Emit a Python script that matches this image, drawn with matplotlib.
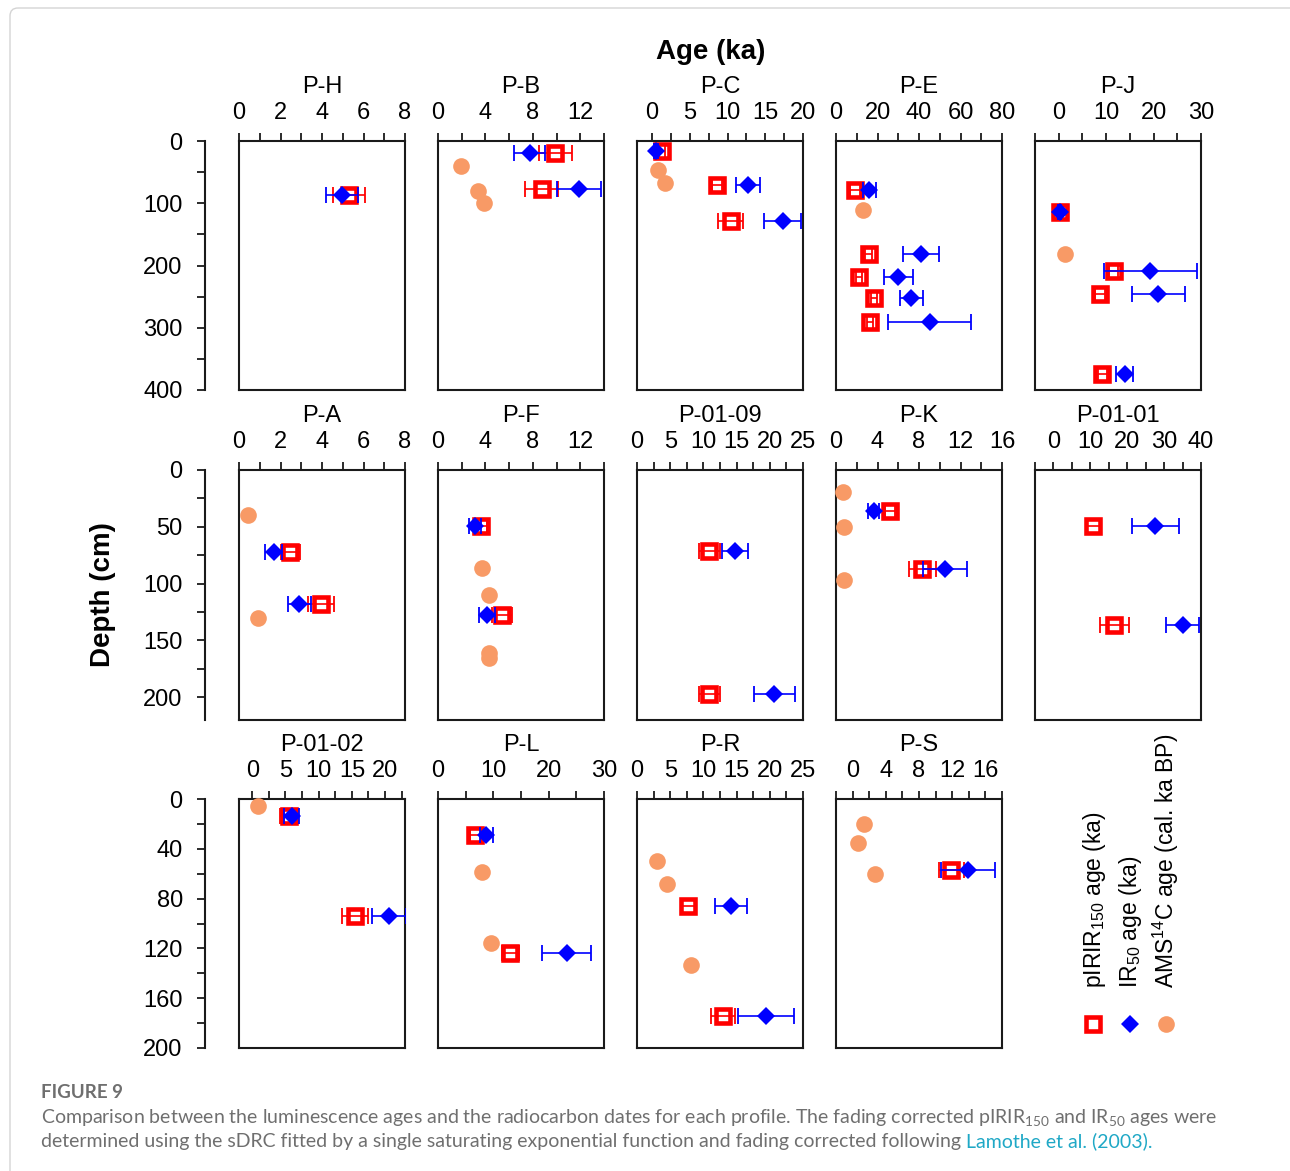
import matplotlib
matplotlib.use("Agg")
import matplotlib.pyplot as plt
from matplotlib.ticker import MultipleLocator, FormatStrFormatter
from matplotlib.patches import FancyBboxPatch

plt.rcParams['font.family'] = ['Liberation Sans', 'DejaVu Sans']
plt.rcParams['mathtext.default'] = 'regular'

# panel layout (rows of profiles)
rows = [["P-H", "P-B", "P-C", "P-E", "P-J"],
        ["P-A", "P-F", "P-01-09", "P-K", "P-01-01"],
        ["P-01-02", "P-L", "P-R", "P-S"]]

# age axis per profile: limits, labelled step, tick step
age_lim = {"P-H": (0, 8), "P-B": (0, 14), "P-C": (-2, 20), "P-E": (0, 80), "P-J": (-5, 30),
           "P-A": (0, 8), "P-F": (0, 14), "P-01-09": (0, 25), "P-K": (0, 16), "P-01-01": (-5, 40),
           "P-01-02": (-2, 23), "P-L": (0, 30), "P-R": (0, 25), "P-S": (-2, 18)}
age_label_step = {"P-H": 2, "P-B": 4, "P-C": 5, "P-E": 20, "P-J": 10,
                  "P-A": 2, "P-F": 4, "P-01-09": 5, "P-K": 4, "P-01-01": 10,
                  "P-01-02": 5, "P-L": 10, "P-R": 5, "P-S": 4}
age_tick_step = {"P-H": 1, "P-B": 2, "P-C": 2.5, "P-E": 10, "P-J": 5,
                 "P-A": 1, "P-F": 2, "P-01-09": 2.5, "P-K": 2, "P-01-01": 5,
                 "P-01-02": 2.5, "P-L": 5, "P-R": 2.5, "P-S": 2}

# depth axis per row
depth_max = [400, 220, 200]
depth_label_step = [100, 50, 40]
depth_tick_step = [50, 25, 20]

# pIRIR150 ages: depth (cm), age (ka), error (ka)
pirir_depth = {"P-H": [87], "P-B": [20, 77], "P-C": [16, 71, 129],
               "P-E": [78, 181, 219, 252, 291], "P-J": [114, 209, 245, 374],
               "P-A": [72, 118], "P-F": [49, 128], "P-01-09": [71, 197], "P-K": [36, 87],
               "P-01-01": [49, 136], "P-01-02": [14, 94], "P-L": [29, 123.5],
               "P-R": [86, 174], "P-S": [57]}
pirir_age = {"P-H": [5.3], "P-B": [9.9, 8.75], "P-C": [1.3, 8.6, 10.4],
             "P-E": [9.3, 15.7, 11.1, 18.2, 16.4], "P-J": [0.2, 11.6, 8.7, 9.2],
             "P-A": [2.48, 3.95], "P-F": [3.65, 5.4], "P-01-09": [10.9, 10.9], "P-K": [5.2, 8.3],
             "P-01-01": [10.8, 16.5], "P-01-02": [5.5, 15.5], "P-L": [6.7, 13.1],
             "P-R": [7.7, 13.0], "P-S": [11.9]}
pirir_err = {"P-H": [0.75], "P-B": [1.37, 1.4], "P-C": [0.4, 0.6, 1.65],
             "P-E": [2.5, 1.5, 1.5, 1.5, 1.5], "P-J": [0.5, 1.0, 1.0, 1.0],
             "P-A": [0.45, 0.63], "P-F": [0.5, 0.87], "P-01-09": [1.6, 1.6], "P-K": [0.5, 1.3],
             "P-01-01": [1.8, 4.0], "P-01-02": [1.3, 1.95], "P-L": [1.0, 1.5],
             "P-R": [1.0, 1.8], "P-S": [1.5]}

# IR50 ages
ir50_depth = pirir_depth
ir50_age = {"P-H": [4.95], "P-B": [7.73, 11.9], "P-C": [0.5, 12.7, 17.3],
            "P-E": [16.1, 41.0, 30.0, 36.25, 45.2], "P-J": [0.2, 19.3, 21.0, 13.9],
            "P-A": [1.67, 2.9], "P-F": [3.12, 4.14], "P-01-09": [14.75, 20.7], "P-K": [3.64, 10.5],
            "P-01-01": [27.6, 35.0], "P-01-02": [5.95, 20.6], "P-L": [8.75, 23.25],
            "P-R": [14.2, 19.4], "P-S": [13.9]}
ir50_err = {"P-H": [0.78], "P-B": [1.3, 1.85], "P-C": [0.3, 1.6, 2.5],
            "P-E": [3.0, 8.75, 7.0, 5.6, 20.0], "P-J": [0.3, 9.8, 5.6, 1.8],
            "P-A": [0.4, 0.56], "P-F": [0.5, 0.7], "P-01-09": [2.0, 3.1], "P-K": [0.55, 2.1],
            "P-01-01": [6.4, 4.5], "P-01-02": [1.1, 2.5], "P-L": [1.1, 4.4],
            "P-R": [2.4, 4.2], "P-S": [3.2]}

# AMS 14C ages (cal. ka BP)
ams_depth = {"P-B": [40, 81, 100], "P-C": [47, 68], "P-E": [111], "P-J": [182],
             "P-A": [40, 130], "P-F": [86, 110, 161, 165], "P-K": [19.5, 50, 97],
             "P-01-02": [5.3], "P-L": [59, 116], "P-R": [50, 68, 133], "P-S": [20, 35, 60]}
ams_age = {"P-B": [1.98, 3.35, 3.85], "P-C": [0.8, 1.7], "P-E": [13.0], "P-J": [1.4],
           "P-A": [0.45, 0.9], "P-F": [3.7, 4.3, 4.3, 4.3], "P-K": [0.7, 0.8, 0.8],
           "P-01-02": [0.9], "P-L": [7.9, 9.5], "P-R": [3.0, 4.45, 8.2], "P-S": [1.4, 0.6, 2.75]}

RED = '#ff0000'
BLUE = '#0000ff'
ORANGE = '#f89a66'
INK = '#1a1a1a'
FS = 17

W, H = 1290, 1171
fig = plt.figure(figsize=(W / 100, H / 100), dpi=100)

# overlay in pixel units for the card border, legend and caption
ov = fig.add_axes([0, 0, 1, 1])
ov.set_xlim(0, W)
ov.set_ylim(H, 0)
ov.axis('off')
ov.add_patch(FancyBboxPatch((10, 8), 1320, 1220, boxstyle='round,pad=0,rounding_size=8',
                            fill=False, ec='#d4d4d4', lw=1.0))

col_x = [239, 438, 637, 836, 1035]
row_y = [(141, 390), (470, 720), (799, 1048)]
pw = 166

for r, names in enumerate(rows):
    y0, y1 = row_y[r]
    for c, name in enumerate(names):
        x0 = col_x[c]
        ax = fig.add_axes([x0 / W, 1 - y1 / H, pw / W, (y1 - y0) / H])
        ax.set_xlim(*age_lim[name])
        ax.set_ylim(depth_max[r], 0)
        for s in ax.spines.values():
            s.set_linewidth(1.5)
            s.set_color(INK)

        ax.xaxis.tick_top()
        ax.xaxis.set_major_locator(MultipleLocator(age_label_step[name]))
        ax.xaxis.set_minor_locator(MultipleLocator(age_tick_step[name]))
        ax.xaxis.set_major_formatter(FormatStrFormatter('%g'))
        ax.tick_params(axis='x', which='both', direction='out', length=5.5, width=1.3,
                       colors=INK, labelcolor='black', labelsize=FS, pad=7)

        if c == 0:
            ax.spines['left'].set_position(('outward', 24.5))
            ax.plot([0, 0], [0, 1], transform=ax.transAxes, color=INK, lw=1.5, clip_on=False)
            ax.yaxis.set_major_locator(MultipleLocator(depth_label_step[r]))
            ax.yaxis.set_minor_locator(MultipleLocator(depth_tick_step[r]))
            ax.yaxis.set_major_formatter(FormatStrFormatter('%g'))
            ax.tick_params(axis='y', which='both', direction='out', length=6, width=1.3,
                           colors=INK, labelcolor='black', labelsize=FS, pad=10)
        else:
            ax.tick_params(axis='y', which='both', left=False, labelleft=False)

        ax.text(0.5, 1 + 48 / (y1 - y0), name, transform=ax.transAxes, ha='center',
                va='baseline', fontsize=FS)

        # pIRIR150
        ax.plot(pirir_age[name], pirir_depth[name], 's', ms=9.5, mfc='white', mec=RED,
                mew=3.3, zorder=2, clip_on=False)
        ax.errorbar(pirir_age[name], pirir_depth[name], xerr=pirir_err[name], fmt='none',
                    ecolor=RED, elinewidth=1.2, capsize=5.5, capthick=1.3, zorder=3)
        # IR50
        ax.errorbar(ir50_age[name], ir50_depth[name], xerr=ir50_err[name], fmt='none',
                    ecolor=BLUE, elinewidth=1.2, capsize=5.5, capthick=1.3, zorder=4)
        ax.plot(ir50_age[name], ir50_depth[name], 'D', ms=9, color=BLUE, mew=0, zorder=5,
                clip_on=False)
        # AMS 14C
        if name in ams_age:
            ax.plot(ams_age[name], ams_depth[name], 'o', ms=12, color=ORANGE, mew=0,
                    zorder=6, clip_on=False)

fig.text(711 / W, 1 - 52 / H, 'Age (ka)', ha='center', va='center', fontsize=20,
         fontweight='bold')
fig.text(103 / W, 1 - 595 / H, 'Depth (cm)', ha='center', va='center', rotation=90,
         fontsize=20, fontweight='bold')

# legend
ov.plot([1093], [1024], 's', ms=9.5, mfc='white', mec=RED, mew=3.3)
ov.plot([1130], [1024], 'D', ms=9, color=BLUE, mew=0)
ov.plot([1166], [1024], 'o', ms=12, color=ORANGE, mew=0)
legend_labels = ['pIRIR$_{150}$ age (ka)', 'IR$_{50}$ age (ka)', 'AMS$^{14}$C age (cal. ka BP)']
for lx, lab in zip([1094, 1130, 1166], legend_labels):
    ov.text(lx, 988, lab, rotation=90, ha='center', va='bottom', fontsize=16.5)

# caption
GREY = '#6f6f6f'
CFS = 14
cap_font = ['Lato', 'DejaVu Sans']
ov.text(41, 1092, 'FIGURE 9', ha='left', va='center', fontsize=13.5, color=GREY,
        fontweight='bold', family=cap_font)
ov.text(41, 1117, 'Comparison between the luminescence ages and the radiocarbon dates for '
        'each profile. The fading corrected pIRIR$_{150}$ and IR$_{50}$ ages were',
        ha='left', va='center', fontsize=CFS, color=GREY, family=cap_font)
t2 = ov.text(41, 1141, 'determined using the sDRC fitted by a single saturating exponential '
             'function and fading corrected following ', ha='left', va='center',
             fontsize=CFS, color=GREY, family=cap_font)
fig.canvas.draw()
bb = t2.get_window_extent()
x_end = ov.transData.inverted().transform((bb.x1, bb.y0))[0]
ov.text(x_end, 1141, 'Lamothe et al. (2003).', ha='left', va='center', fontsize=CFS,
        color='#1fa8c6', family=cap_font)

fig.savefig('out.png', dpi=100)
